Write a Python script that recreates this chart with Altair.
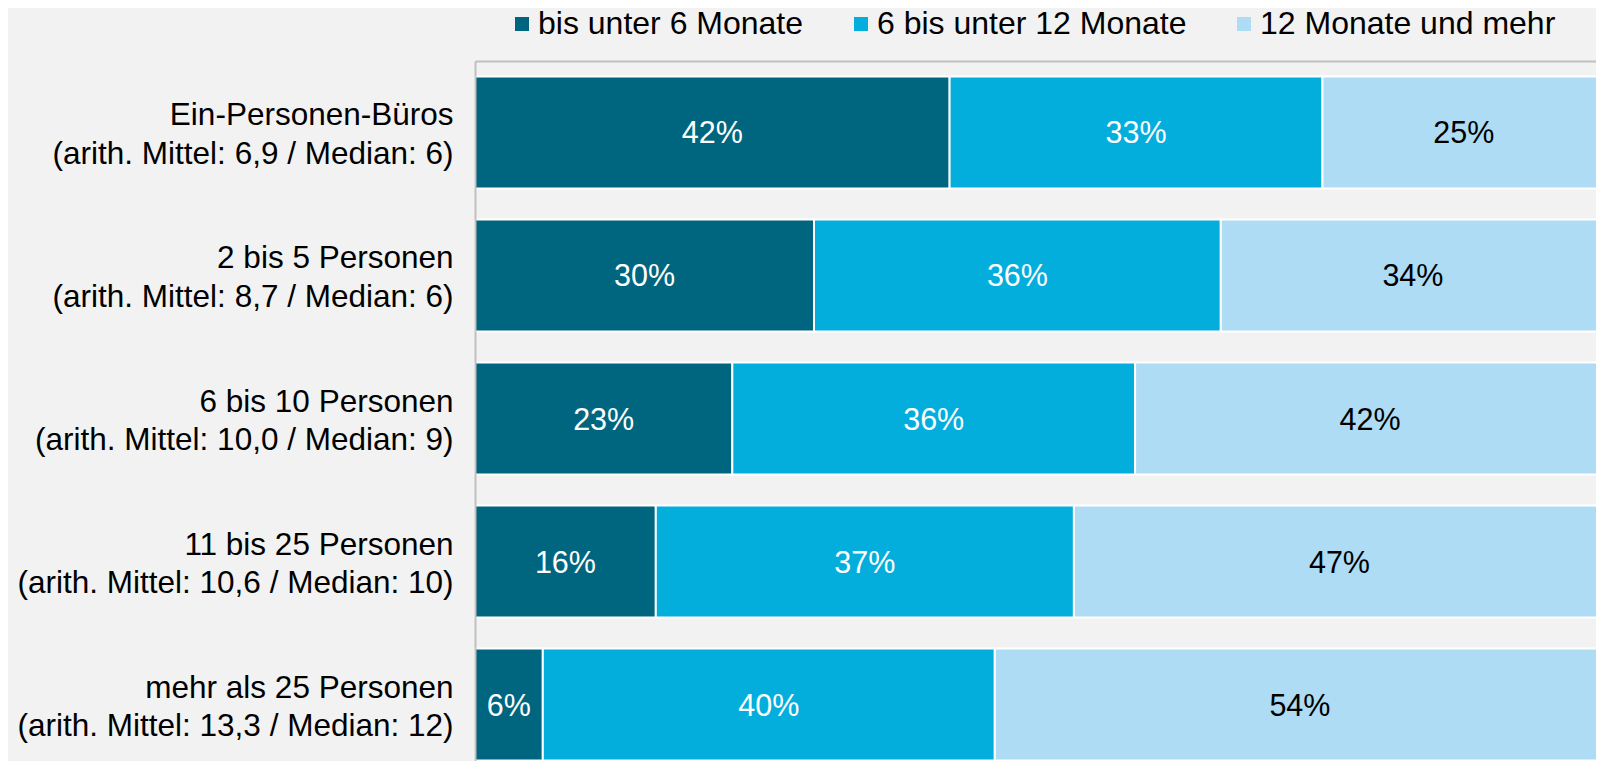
import altair as alt
import pandas as pd

rows = [
    "Ein-Personen-Büros|(arith. Mittel: 6,9 / Median: 6)",
    "2 bis 5 Personen|(arith. Mittel: 8,7 / Median: 6)",
    "6 bis 10 Personen|(arith. Mittel: 10,0 / Median: 9)",
    "11 bis 25 Personen|(arith. Mittel: 10,6 / Median: 10)",
    "mehr als 25 Personen|(arith. Mittel: 13,3 / Median: 12)",
]
categories = ["bis unter 6 Monate", "6 bis unter 12 Monate", "12 Monate und mehr"]
short_vals = [42, 30, 23, 16, 6]
mid_vals = [33, 36, 36, 37, 40]
long_vals = [25, 34, 42, 47, 54]
colors = ["#00667f", "#03aedd", "#aedcf5"]

records = []
for i, r in enumerate(rows):
    for j, (cat, vals) in enumerate(zip(categories, [short_vals, mid_vals, long_vals])):
        records.append({"row": r, "cat": cat, "value": vals[i], "order": j})
df = pd.DataFrame(records)

FONT = "Liberation Sans"

base = (
    alt.Chart(df)
    .transform_stack(
        stack="value",
        groupby=["row"],
        as_=["x0", "x1"],
        offset="normalize",
        sort=[alt.SortField("order", order="ascending")],
    )
    .transform_calculate(
        xm="(datum.x0 + datum.x1) / 2",
        label="datum.value + '%'",
        tc="datum.cat == '12 Monate und mehr' ? '#000000' : '#ffffff'",
    )
)

yenc = alt.Y(
    "row:N",
    sort=rows,
    scale=alt.Scale(range=[0, 715], paddingInner=0.217, paddingOuter=0.108),
    axis=alt.Axis(
        title=None,
        domain=True,
        domainColor="#c0c0c0",
        domainWidth=2,
        ticks=False,
        grid=False,
        labelExpr="split(datum.value, '|')",
        labelFont=FONT,
        labelFontSize=31.5,
        labelColor="#000000",
        labelLineHeight=38.5,
        labelPadding=22,
        labelOffset=-16,
        labelLimit=1000,
        labelAlign="right",
        zindex=1,
    ),
)

xscale = alt.Scale(domain=[0, 1], range=[0, 1130])

bars = base.mark_bar(stroke="#ffffff", strokeWidth=2).encode(
    y=yenc,
    x=alt.X(
        "x0:Q",
        scale=xscale,
        axis=alt.Axis(
            orient="top",
            title=None,
            labels=False,
            ticks=False,
            grid=False,
            domainColor="#c0c0c0",
            domainWidth=2,
            zindex=1,
        ),
    ),
    x2="x1:Q",
    color=alt.Color(
        "cat:N",
        sort=categories,
        scale=alt.Scale(domain=categories, range=colors),
        legend=alt.Legend(
            title=None,
            orient="none",
            direction="horizontal",
            legendX=31,
            legendY=-53,
            symbolType="square",
            symbolSize=196,
            symbolStrokeWidth=0,
            symbolOpacity=1,
            labelFont=FONT,
            labelFontSize=32,
            labelColor="#000000",
            labelLimit=1000,
            labelOffset=0,
            columnPadding=41,
            padding=0,
        ),
    ),
)

text = base.mark_text(font=FONT, fontSize=30.5, baseline="middle", align="center", dy=2).encode(
    y=alt.Y("row:N", sort=rows),
    x=alt.X("xm:Q", scale=xscale),
    text="label:N",
    color=alt.Color("tc:N", scale=None),
)

chart = (
    alt.layer(bars, text)
    .properties(
        width=1121,
        height=700,
        autosize="none",
        padding={"left": 467, "top": 53, "right": 0, "bottom": 0},
        background="#f2f2f2",
    )
    .configure_view(stroke=None)
)

chart.save("out.html", embed_options={"renderer": "svg", "actions": False})
